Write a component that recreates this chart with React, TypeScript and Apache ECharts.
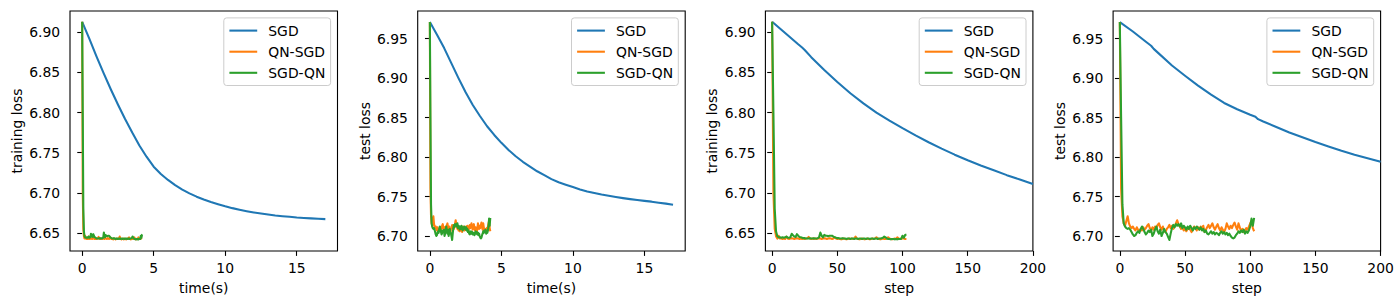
import React, { useEffect, useRef } from "react";
import * as echarts from "echarts";

// ---------- data ----------
const SERIES_NAMES = ["SGD", "QN-SGD", "SGD-QN"];
const COLORS = ["#1f77b4", "#ff7f0e", "#2ca02c"];

// SGD against wall-clock time (s)
const sgdTime = [0, 0.5, 1, 1.5, 2, 2.5, 3, 3.5, 4, 4.5, 5, 5.5, 6, 6.5, 7, 7.5, 8, 8.5, 9, 9.5, 10, 10.5, 11, 11.5, 12, 12.5, 13, 13.5, 14, 14.5, 15, 15.5, 16, 16.5, 17];
const sgdTrainByTime = [6.913, 6.892, 6.870, 6.849, 6.829, 6.810, 6.792, 6.775, 6.759, 6.745, 6.7325, 6.7235, 6.716, 6.7095, 6.704, 6.6993, 6.6952, 6.6917, 6.6886, 6.6858, 6.6832, 6.6809, 6.6789, 6.6771, 6.6755, 6.6741, 6.6729, 6.6718, 6.6709, 6.6701, 6.6693, 6.6687, 6.6681, 6.6676, 6.6672];
const sgdTestByTime = [6.971, 6.955, 6.938, 6.919, 6.900, 6.882, 6.866, 6.852, 6.839, 6.828, 6.818, 6.809, 6.801, 6.794, 6.788, 6.782, 6.777, 6.772, 6.768, 6.765, 6.762, 6.759, 6.7565, 6.7545, 6.7525, 6.751, 6.7495, 6.748, 6.7467, 6.7455, 6.7445, 6.7435, 6.7422, 6.741, 6.7395];

// SGD against step
const sgdTrainSteps = [0, 10, 20, 23, 25, 30, 40, 50, 60, 70, 80, 90, 100, 110, 120, 130, 140, 150, 160, 170, 180, 190, 200];
const sgdTrainByStep = [6.913, 6.899, 6.885, 6.881, 6.878, 6.869, 6.853, 6.838, 6.824, 6.8115, 6.800, 6.790, 6.7805, 6.7715, 6.763, 6.755, 6.7475, 6.7405, 6.734, 6.728, 6.722, 6.7165, 6.711];
const sgdTestSteps = [0, 10, 20, 24, 26, 30, 40, 50, 60, 70, 80, 90, 100, 104, 106, 110, 120, 130, 140, 150, 160, 170, 180, 190, 200];
const sgdTestByStep = [6.971, 6.959, 6.946, 6.941, 6.937, 6.931, 6.916, 6.903, 6.8905, 6.879, 6.8685, 6.8605, 6.8535, 6.851, 6.848, 6.845, 6.838, 6.831, 6.825, 6.819, 6.8135, 6.808, 6.803, 6.7985, 6.794];

// QN methods, one value per step (steps 0..103)
const qnSgdTrain = [
  6.913, 6.700, 6.655, 6.646, 6.643, 6.6465, 6.643, 6.643, 6.6425, 6.643,
  6.6425, 6.6455, 6.643, 6.6425, 6.643, 6.6435, 6.643, 6.6425, 6.643, 6.6435,
  6.643, 6.6425, 6.643, 6.6425, 6.643, 6.6425, 6.643, 6.6435, 6.645, 6.643,
  6.6425, 6.643, 6.6425, 6.643, 6.6425, 6.643, 6.6435, 6.643, 6.6425, 6.643,
  6.6435, 6.643, 6.6425, 6.643, 6.6435, 6.643, 6.6425, 6.643, 6.6445, 6.643,
  6.6425, 6.643, 6.6425, 6.642, 6.6425, 6.643, 6.6425, 6.642, 6.6425, 6.643,
  6.6425, 6.643, 6.6425, 6.643, 6.6455, 6.643, 6.6425, 6.642, 6.6425, 6.643,
  6.6425, 6.642, 6.6425, 6.643, 6.6425, 6.642, 6.6425, 6.643, 6.6425, 6.643,
  6.6445, 6.643, 6.6425, 6.642, 6.6425, 6.643, 6.6425, 6.6425, 6.643, 6.6445,
  6.643, 6.6425, 6.642, 6.6425, 6.643, 6.6425, 6.6445, 6.643, 6.6425, 6.643,
  6.6435, 6.643, 6.6425, 6.6425,
];
const sgdQnTrain = [
  6.913, 6.800, 6.680, 6.652, 6.646, 6.6445, 6.6445, 6.644, 6.6445, 6.644,
  6.6445, 6.6455, 6.644, 6.644, 6.6445, 6.649, 6.647, 6.6455, 6.645, 6.6485,
  6.6465, 6.645, 6.6445, 6.644, 6.6435, 6.6435, 6.643, 6.643, 6.643, 6.6435,
  6.643, 6.643, 6.6435, 6.643, 6.643, 6.6435, 6.6445, 6.6505, 6.6465, 6.6445,
  6.6475, 6.6465, 6.6465, 6.646, 6.6465, 6.6465, 6.6465, 6.6455, 6.6445, 6.644,
  6.6435, 6.6435, 6.643, 6.643, 6.6435, 6.643, 6.643, 6.6425, 6.643, 6.643,
  6.6425, 6.643, 6.643, 6.6425, 6.643, 6.643, 6.6425, 6.643, 6.643, 6.6425,
  6.643, 6.643, 6.6425, 6.643, 6.643, 6.6425, 6.643, 6.643, 6.6425, 6.643,
  6.643, 6.6425, 6.643, 6.643, 6.6435, 6.644, 6.6455, 6.6445, 6.643, 6.6425,
  6.6425, 6.642, 6.6425, 6.6425, 6.642, 6.6425, 6.642, 6.6425, 6.6425, 6.6425,
  6.6465, 6.644, 6.6475, 6.648,
];
const qnSgdTest = [
  6.971, 6.760, 6.725, 6.716, 6.713, 6.719, 6.725, 6.716, 6.712, 6.710,
  6.712, 6.709, 6.707, 6.711, 6.708, 6.706, 6.709, 6.707, 6.711, 6.708,
  6.710, 6.713, 6.715, 6.710, 6.707, 6.711, 6.708, 6.712, 6.709, 6.714,
  6.716, 6.711, 6.708, 6.712, 6.707, 6.705, 6.709, 6.711, 6.714, 6.710,
  6.713, 6.709, 6.712, 6.716, 6.720, 6.715, 6.712, 6.709, 6.711, 6.707,
  6.710, 6.706, 6.709, 6.711, 6.708, 6.705, 6.709, 6.712, 6.710, 6.707,
  6.711, 6.708, 6.712, 6.709, 6.713, 6.705, 6.708, 6.711, 6.714, 6.710,
  6.713, 6.716, 6.711, 6.708, 6.712, 6.715, 6.710, 6.707, 6.711, 6.708,
  6.705, 6.709, 6.716, 6.712, 6.709, 6.713, 6.710, 6.714, 6.717, 6.712,
  6.708, 6.716, 6.711, 6.706, 6.709, 6.705, 6.707, 6.710, 6.708, 6.712,
  6.716, 6.719, 6.710, 6.706,
];
const sgdQnTest = [
  6.971, 6.850, 6.740, 6.716, 6.712, 6.710, 6.709, 6.710, 6.708, 6.705,
  6.702, 6.700, 6.701, 6.704, 6.706, 6.704, 6.709, 6.712, 6.709, 6.705,
  6.702, 6.704, 6.707, 6.705, 6.708, 6.700, 6.703, 6.708, 6.712, 6.706,
  6.703, 6.708, 6.700, 6.704, 6.709, 6.705, 6.703, 6.699, 6.695, 6.703,
  6.710, 6.714, 6.711, 6.715, 6.713, 6.715, 6.712, 6.716, 6.710, 6.713,
  6.711, 6.708, 6.712, 6.709, 6.713, 6.710, 6.707, 6.711, 6.709, 6.712,
  6.710, 6.708, 6.711, 6.707, 6.709, 6.705, 6.707, 6.703, 6.702, 6.704,
  6.706, 6.703, 6.705, 6.702, 6.704, 6.703, 6.701, 6.704, 6.706, 6.703,
  6.705, 6.702, 6.704, 6.701, 6.703, 6.700, 6.698, 6.697, 6.698, 6.701,
  6.703, 6.706, 6.704, 6.707, 6.705, 6.708, 6.703, 6.706, 6.704, 6.707,
  6.712, 6.722, 6.713, 6.723,
];

// measured wall-clock duration of one QN step (s)
const QN_SECONDS_PER_STEP = 0.041;

const timeTicks = [0, 5, 10, 15];
const stepTicks = [0, 50, 100, 150, 200];
const trainLossTicks = [6.65, 6.7, 6.75, 6.8, 6.85, 6.9];
const testLossTicks = [6.7, 6.75, 6.8, 6.85, 6.9, 6.95];

// ---------- layout / style ----------
const FONT = "DejaVu Sans";
const FS = 13.9;
const AX_TOP = 11;
const AX_H = 245;
const AX_W = 267.5;
const AX_LEFTS = [70, 417.7, 765.4, 1113.1];

const zip = (xs: number[], ys: number[]) => xs.map((x, i) => [x, ys[i]]);
const byStep = (ys: number[]) => ys.map((y, i) => [i, y]);
const byTime = (ys: number[]) => ys.map((y, i) => [i * QN_SECONDS_PER_STEP, y]);

const panels = [
  {
    xName: "time(s)", yName: "training loss",
    xMin: -0.85, xMax: 17.85, xTicks: timeTicks,
    yMin: 6.6275, yMax: 6.9265, yTicks: trainLossTicks,
    data: [zip(sgdTime, sgdTrainByTime), byTime(qnSgdTrain), byTime(sgdQnTrain)],
  },
  {
    xName: "time(s)", yName: "test loss",
    xMin: -0.85, xMax: 17.85, xTicks: timeTicks,
    yMin: 6.681, yMax: 6.985, yTicks: testLossTicks,
    data: [zip(sgdTime, sgdTestByTime), byTime(qnSgdTest), byTime(sgdQnTest)],
  },
  {
    xName: "step", yName: "training loss",
    xMin: -5.15, xMax: 200, xTicks: stepTicks,
    yMin: 6.6275, yMax: 6.9265, yTicks: trainLossTicks,
    data: [zip(sgdTrainSteps, sgdTrainByStep), byStep(qnSgdTrain), byStep(sgdQnTrain)],
  },
  {
    xName: "step", yName: "test loss",
    xMin: -5.15, xMax: 200, xTicks: stepTicks,
    yMin: 6.681, yMax: 6.985, yTicks: testLossTicks,
    data: [zip(sgdTestSteps, sgdTestByStep), byStep(qnSgdTest), byStep(sgdQnTest)],
  },
];

function buildOption() {
  const grid: any[] = [];
  const xAxis: any[] = [];
  const yAxis: any[] = [];
  const series: any[] = [];
  const graphic: any[] = [];

  const textStyle = { fontSize: FS, fontFamily: FONT, color: "#000" };
  const tick = { show: true, length: 4.9, lineStyle: { color: "#000", width: 1.1 } };

  panels.forEach((p, i) => {
    grid.push({
      left: AX_LEFTS[i], top: AX_TOP, width: AX_W, height: AX_H,
      show: true, borderColor: "#000", borderWidth: 1.1, backgroundColor: "transparent",
    });
    xAxis.push({
      type: "value", gridIndex: i, min: p.xMin, max: p.xMax,
      axisLine: { show: false },
      axisTick: { ...tick, customValues: p.xTicks },
      axisLabel: { ...textStyle, margin: 9.8, customValues: p.xTicks, formatter: (v: number) => String(Math.round(v)) },
      splitLine: { show: false },
      name: p.xName, nameLocation: "middle", nameGap: 30, nameTextStyle: textStyle,
    });
    yAxis.push({
      type: "value", gridIndex: i, min: p.yMin, max: p.yMax,
      axisLine: { show: false },
      axisTick: { ...tick, customValues: p.yTicks },
      axisLabel: { ...textStyle, margin: 9.8, customValues: p.yTicks, formatter: (v: number) => v.toFixed(2) },
      splitLine: { show: false },
      name: p.yName, nameLocation: "middle", nameGap: 46, nameTextStyle: textStyle,
    });
    p.data.forEach((d, k) => {
      series.push({
        type: "line", name: SERIES_NAMES[k], xAxisIndex: i, yAxisIndex: i,
        data: d, showSymbol: false, symbol: "none", clip: true,
        lineStyle: { color: COLORS[k], width: 2.08, join: "round", cap: "butt" },
        itemStyle: { color: COLORS[k] },
        z: 2 + k,
      });
    });

    // matplotlib-style legend box (upper right)
    const lw = 106.8, lh = 67.6;
    const gx = AX_LEFTS[i] + AX_W - 6.9 - lw;
    const gy = AX_TOP + 6.9;
    const children: any[] = [
      {
        type: "rect", shape: { x: 0, y: 0, width: lw, height: lh, r: 2.8 },
        style: { fill: "rgba(255,255,255,0.8)", stroke: "#cccccc", lineWidth: 1 },
      },
    ];
    SERIES_NAMES.forEach((name, k) => {
      const cy = 12.7 + k * 21.1;
      children.push({
        type: "line", shape: { x1: 5.6, y1: cy, x2: 33.4, y2: cy },
        style: { stroke: COLORS[k], lineWidth: 2.08 },
      });
      children.push({
        type: "text", x: 44.5, y: cy,
        style: { text: name, fill: "#000", fontSize: FS, fontFamily: FONT, verticalAlign: "middle", align: "left" },
      });
    });
    graphic.push({ type: "group", x: gx, y: gy, z: 100, children });
  });

  return { animation: false, grid, xAxis, yAxis, series, graphic };
}

export default function App() {
  const ref = useRef<HTMLDivElement>(null);
  useEffect(() => {
    if (!ref.current) return;
    const chart = echarts.init(ref.current, undefined, { renderer: "svg" });
    chart.setOption(buildOption() as any);
    return () => chart.dispose();
  }, []);
  return (
    <div
      ref={ref}
      style={{ position: "fixed", left: 0, top: 0, width: 1400, height: 300, background: "#fff" }}
    />
  );
}
